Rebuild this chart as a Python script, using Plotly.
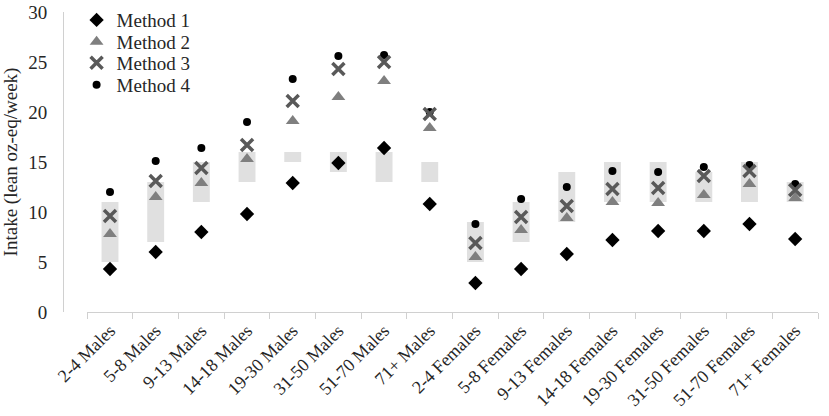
import plotly.graph_objects as go

groups = ['2-4 Males', '5-8 Males', '9-13 Males', '14-18 Males', '19-30 Males',
          '31-50 Males', '51-70 Males', '71+ Males', '2-4 Females', '5-8 Females',
          '9-13 Females', '14-18 Females', '19-30 Females', '31-50 Females',
          '51-70 Females', '71+ Females']

# recommended range (grey boxes)
range_low = [5, 7, 11, 13, 15, 14, 13, 13, 5, 7, 9, 11, 11, 11, 11, 11]
range_high = [11, 13, 15, 16, 16, 16, 16, 15, 9, 11, 14, 15, 15, 14, 15, 13]

method1 = [4.3, 6.0, 8.0, 9.8, 12.9, 14.9, 16.4, 10.8, 2.9, 4.3, 5.8, 7.2, 8.1, 8.1, 8.8, 7.3]
method2 = [7.8, 11.5, 12.9, 15.3, 19.1, 21.5, 23.1, 18.4, 5.5, 8.2, 9.4, 11.0, 10.9, 11.7, 12.8, 11.4]
method3 = [9.6, 13.1, 14.4, 16.7, 21.1, 24.3, 25.0, 19.8, 6.9, 9.5, 10.6, 12.3, 12.4, 13.6, 14.1, 12.2]
method4 = [12.0, 15.1, 16.4, 19.0, 23.3, 25.6, 25.7, 20.0, 8.8, 11.3, 12.5, 14.1, 14.0, 14.5, 14.7, 12.8]

font = 'Liberation Serif'
txt = '#262626'

fig = go.Figure()
fig.add_trace(go.Bar(x=groups, y=[h - l for h, l in zip(range_high, range_low)],
                     base=range_low, width=0.37, marker_color='#e0e0e0',
                     marker_line_width=0, showlegend=False, hoverinfo='skip'))
fig.add_trace(go.Scatter(x=groups, y=method4, mode='markers', name='Method 4',
                         legend='legend4',
                         marker=dict(symbol='circle', size=8, color='black')))
fig.add_trace(go.Scatter(x=groups, y=method1, mode='markers', name='Method 1',
                         legend='legend',
                         marker=dict(symbol='diamond', size=11, color='black')))
fig.add_trace(go.Scatter(x=groups, y=method2, mode='markers', name='Method 2',
                         legend='legend2',
                         marker=dict(symbol='triangle-up', size=12, color='#7f7f7f')))
fig.add_trace(go.Scatter(x=groups, y=method3, mode='markers', name='Method 3',
                         legend='legend3',
                         marker=dict(symbol='x-thin', size=12,
                                     line=dict(width=3.5, color='#595959'))))


def leg(y):
    return dict(x=0.018, y=y, xanchor='left', yanchor='middle', itemwidth=30,
                font=dict(size=19, color=txt), bgcolor='rgba(0,0,0,0)')


fig.update_layout(
    width=829, height=416,
    margin=dict(l=63, r=11, t=12, b=104, autoexpand=False),
    plot_bgcolor='white', paper_bgcolor='white',
    font=dict(family=font, color=txt),
    legend=leg(0.973), legend2=leg(0.9), legend3=leg(0.83), legend4=leg(0.757),
    xaxis=dict(domain=[0.032, 1], range=[-0.5, 15.5], tickangle=-45,
               tickson='boundaries', ticks='outside', ticklen=6,
               tickcolor='#d0d0d0', showline=True, linecolor='#d0d0d0',
               tickfont=dict(size=18, color=txt), showgrid=False),
    yaxis=dict(range=[0, 30], dtick=5, anchor='free', position=0,
               showline=True, linecolor='#d0d0d0', showgrid=False,
               zeroline=False, ticks='', ticklabelstandoff=12,
               tickfont=dict(size=19, color=txt),
               title=dict(text='Intake (lean oz-eq/week)', standoff=6,
                          font=dict(size=19, color=txt))),
)

# page has a default body margin, drop it so the figure sits at 0,0
fig.write_html('out.html', config={'displayModeBar': False},
               post_script="document.body.style.margin='0';")
